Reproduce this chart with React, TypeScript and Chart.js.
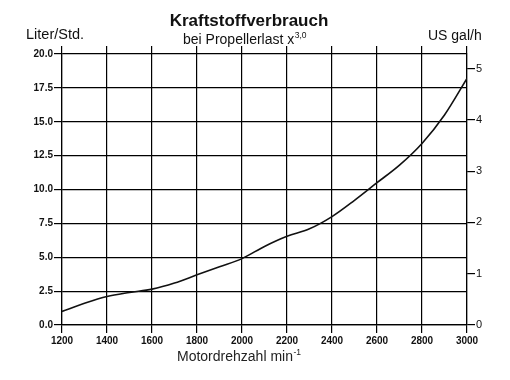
import { useEffect, useRef } from "react";
import { Chart, registerables } from "chart.js";

Chart.register(...registerables);

// ---- data ----
const rpm = [1200, 1300, 1400, 1500, 1600, 1700, 1800, 1900, 2000, 2100, 2200, 2300, 2400, 2500, 2600, 2700, 2800, 2900, 3000];
const literPerHour = [1.0, 1.6, 2.1, 2.4, 2.65, 3.1, 3.7, 4.3, 4.9, 5.8, 6.55, 7.1, 8.0, 9.2, 10.5, 11.8, 13.4, 15.5, 18.2];
const xMin = 1200;
const xMax = 3000;
const xStep = 200;
const yMin = 0;
const yMax = 20;
const yStep = 2.5;
const galStep = 1;
const LITERS_PER_GALLON = 3.78541;

const TITLE = "Kraftstoffverbrauch";
const SUBTITLE = "bei Propellerlast x";
const SUBTITLE_SUP = "3,0";
const LEFT_UNIT = "Liter/Std.";
const RIGHT_UNIT = "US gal/h";
const X_TITLE = "Motordrehzahl min";
const X_TITLE_SUP = "-1";

const FONT = '"Liberation Sans", Arial, Helvetica, sans-serif';

function drawWithSup(ctx: CanvasRenderingContext2D, main: string, sup: string, x: number, y: number, size: number, supSize: number, supRise: number) {
  ctx.textAlign = "left";
  ctx.font = `${size}px ${FONT}`;
  ctx.fillText(main, x, y);
  const w = ctx.measureText(main).width;
  ctx.font = `${supSize}px ${FONT}`;
  ctx.fillText(sup, x + w + 0.5, y - supRise);
}

const textPlugin = {
  id: "texts",
  afterDraw(chart: any) {
    const ctx: CanvasRenderingContext2D = chart.ctx;
    ctx.save();
    ctx.fillStyle = "#111";
    ctx.textBaseline = "alphabetic";
    ctx.textAlign = "center";
    ctx.font = `bold 17px ${FONT}`;
    ctx.fillText(TITLE, 249, 25.5);
    drawWithSup(ctx, SUBTITLE, SUBTITLE_SUP, 183, 44, 14, 8.5, 6.5);
    ctx.textAlign = "left";
    ctx.font = `14.5px ${FONT}`;
    ctx.fillText(LEFT_UNIT, 26, 39);
    ctx.font = `14px ${FONT}`;
    ctx.fillText(RIGHT_UNIT, 428, 39.5);
    ctx.fillStyle = "#222";
    drawWithSup(ctx, X_TITLE, X_TITLE_SUP, 177, 361, 14, 8.5, 6);
    ctx.restore();
  },
};

export default function App() {
  const ref = useRef<HTMLCanvasElement | null>(null);
  useEffect(() => {
    if (!ref.current) return;
    const chart = new Chart(ref.current, {
      type: "line",
      data: {
        datasets: [
          {
            data: rpm.map((r, i) => ({ x: r, y: literPerHour[i] })),
            borderColor: "#111",
            borderWidth: 1.6,
            pointRadius: 0,
            fill: false,
            cubicInterpolationMode: "monotone",
          },
        ],
      },
      options: {
        responsive: false,
        animation: false,
        layout: { padding: { top: 46, left: 0, right: 0, bottom: 0 } },
        plugins: { legend: { display: false }, tooltip: { enabled: false }, title: { display: false } },
        scales: {
          x: {
            type: "linear",
            position: "bottom",
            min: xMin,
            max: xMax,
            afterFit: (s: any) => { s.height = 55; },
            ticks: { stepSize: xStep, color: "#111", font: { family: FONT, size: 10, weight: "bold" }, padding: 2, maxRotation: 0, callback: (v: any) => String(v) },
            grid: { color: "#000", lineWidth: 1.2, tickLength: 8 },
            border: { color: "#000", width: 1.2 },
          },
          x2: {
            type: "linear",
            position: "top",
            min: xMin,
            max: xMax,
            afterFit: (s: any) => { s.height = 8; },
            ticks: { stepSize: xStep, display: false },
            grid: { color: "#000", lineWidth: 1.2, tickLength: 8, drawOnChartArea: false },
            border: { display: false },
          },
          y: {
            type: "linear",
            position: "left",
            min: yMin,
            max: yMax,
            afterFit: (s: any) => { s.width = 62; },
            ticks: { stepSize: yStep, color: "#111", font: { family: FONT, size: 10, weight: "bold" }, padding: 1, callback: (v: any) => Number(v).toFixed(1) },
            grid: { color: "#000", lineWidth: 1.2, tickLength: 8 },
            border: { color: "#000", width: 1.2 },
          },
          y2: {
            type: "linear",
            position: "right",
            min: yMin / LITERS_PER_GALLON,
            max: yMax / LITERS_PER_GALLON,
            afterFit: (s: any) => { s.width = 43; },
            afterBuildTicks: (s: any) => { s.ticks = s.ticks.filter((t: any) => Math.abs(t.value - Math.round(t.value)) < 1e-6); },
            ticks: { stepSize: galStep, color: "#111", font: { family: FONT, size: 11 }, padding: 1, callback: (v: any) => String(Math.round(Number(v))) },
            grid: { color: "#000", lineWidth: 1.2, tickLength: 8, drawOnChartArea: false },
            border: { color: "#000", width: 1.2 },
          },
        },
      } as any,
      plugins: [textPlugin],
    });
    return () => chart.destroy();
  }, []);
  return (
    <div style={{ position: "absolute", left: 0, top: 0, width: 510, height: 380, background: "#fff" }}>
      <canvas ref={ref} width={510} height={380} />
    </div>
  );
}
